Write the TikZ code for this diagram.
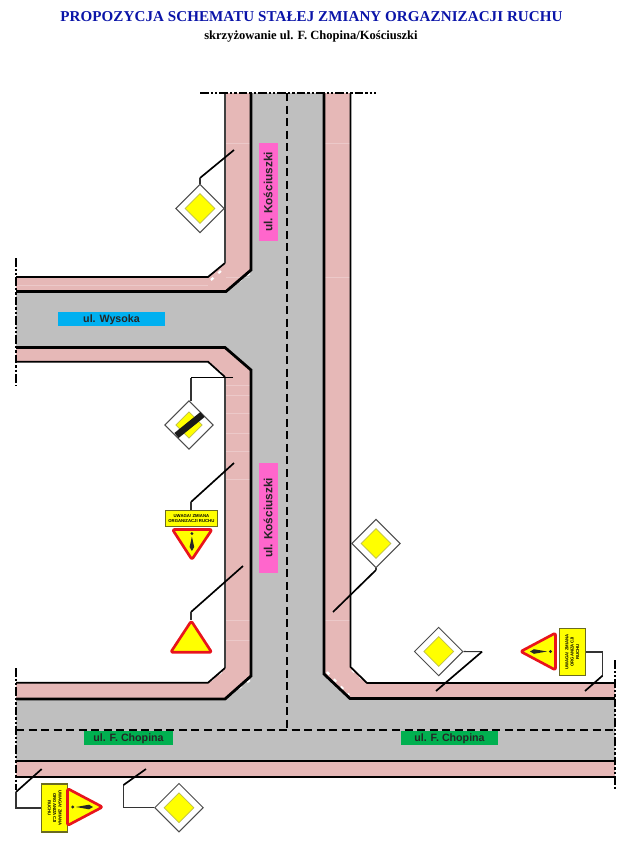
\documentclass[tikz,border=0pt]{standalone}
\usepackage{fontspec}
\setmainfont{Liberation Serif}
\setsansfont{Liberation Sans}
\usetikzlibrary{shapes.geometric}
\definecolor{roadgray}{HTML}{BFBFBF}
\definecolor{walkpink}{HTML}{E6B8B7}
\definecolor{signyellow}{HTML}{FFFF00}
\definecolor{signred}{HTML}{E8141C}
\definecolor{labmag}{HTML}{FF66CC}
\definecolor{labblue}{HTML}{00B0F0}
\definecolor{labgreen}{HTML}{00B050}
\definecolor{titleblue}{HTML}{0A14A8}
\definecolor{yellowedge}{HTML}{BDBD4A}
\definecolor{plateedge}{HTML}{6B6B20}
\tikzset{
  x=0.75pt,y=-0.75pt,
  walk/.style={fill=walkpink,draw=none},
  curb/.style={draw=black,line width=2.1pt,line join=miter},
  edgeline/.style={draw=black,line width=1.3pt},
  thinedge/.style={draw=black!75,line width=0.85pt},
  centre/.style={draw=black,line width=1.3pt,dash pattern=on 6pt off 3.4pt},
  bound/.style={draw=black,line width=1.4pt,dash pattern=on 6.5pt off 1.6pt on 1.6pt off 1.6pt on 1.6pt off 1.6pt},
  seam/.style={draw=white,opacity=0.25,line width=0.5pt},
  jag/.style={draw=white,line width=1.7pt,dash pattern=on 2.5pt off 5pt},
  roadlab/.style={font=\sffamily\bfseries\fontsize{8}{9}\selectfont,text=black!85,inner sep=0pt,text height=5.8pt,text depth=0pt,minimum height=10.6pt,align=center},
  prio/.style={diamond,aspect=1,draw=black!70,line width=0.7pt,fill=white,minimum width=36.5pt,minimum height=36.5pt,inner sep=0pt},
  prioin/.style={diamond,aspect=1,draw=yellowedge,line width=0.5pt,fill=signyellow,minimum width=22.5pt,minimum height=22.5pt,inner sep=0pt},
  plate/.style={draw=plateedge,line width=0.8pt,fill=signyellow,inner sep=0pt,align=center,font=\sffamily\bfseries\fontsize{3.2}{4}\selectfont},
  warn/.style={draw=signred,line width=2pt,fill=signyellow,line join=round,rounded corners=1.5pt},
  lead/.style={draw=black,line width=1.25pt,line join=round},
  leadthin/.style={draw=black!80,line width=0.8pt},
  bang/.style={fill=black!85,draw=none}
}
\begin{document}
\begin{tikzpicture}
\useasboundingbox (0,0) rectangle (627,857);
% title
\node[font=\bfseries\fontsize{11.3}{13}\selectfont,text=titleblue,anchor=center,inner sep=0pt] (title) at (311.5,17) {\addfontfeature{LetterSpace=0.5}PROPOZYCJA SCHEMATU STAŁEJ ZMIANY ORGAZNIZACJI RUCHU};
\node[font=\bfseries\fontsize{9.4}{11}\selectfont,text=black,anchor=center,inner sep=0pt] (subtitle) at (311,36) {skrzyżowanie ul. F. Chopina/Kościuszki};
% sidewalks
\fill[walk] (16,277)--(208,277)--(225,263)--(225,93)--(251,93)--(251,270)--(226,292)--(16,292)--cycle;
\fill[walk] (16,348)--(225,348)--(251,370)--(251,676)--(225,699)--(16,699)--(16,683)--(208,683)--(225,668)--(225,377)--(208,362)--(16,362)--cycle;
\fill[walk] (324,93)--(350,93)--(350,667)--(367,683)--(615,683)--(615,699)--(350,699)--(324,674)--cycle;
\fill[walk] (16,761)--(615,761)--(615,777)--(16,777)--cycle;
% road
\fill[roadgray] (251,93)--(324,93)--(324,674)--(350,699)--(615,699)--(615,761)--(16,761)--(16,699)--(225,699)--(251,676)--(251,370)--(225,348)--(16,348)--(16,292)--(226,292)--(251,270)--cycle;
% seams
\foreach \yy in {143,277,385,395,413,433,451,479,620,640}{\draw[seam] (226,\yy)--(250,\yy);}
\foreach \yy in {143,277}{\draw[seam] (325,\yy)--(350,\yy);}
\draw[seam] (325,620)--(350,620);
\draw[seam] (16,285)--(208,285);
% chamfer jags
\draw[jag] (231,287)--(250,273);
\draw[jag] (231,353)--(250,369);
\draw[jag] (231,694)--(250,680);
\draw[jag] (327,672)--(349,695);
\draw[jag] (211,280)--(224,268);
\draw[jag] (211,365)--(224,375);
\draw[jag] (211,680)--(224,670);
\draw[jag] (352,670)--(365,681);
% centre lines
\draw[centre] (287,93)--(287,730);
\draw[centre] (16,730)--(615,730);
% curbs
\draw[curb] (251,93)--(251,270)--(226,291.5)--(16,291.5);
\draw[curb] (16,347.5)--(225,347.5)--(251,370)--(251,676)--(225,699)--(16,699);
\draw[curb] (324,93)--(324,674)--(350,698.5)--(615,698.5);
\draw[curb] (16,761)--(615,761);
% outer edges
\draw[edgeline] (16,277)--(208,277)--(225,263);
\draw[thinedge] (225,263)--(225,93);
\draw[edgeline] (16,361.7)--(208,361.7)--(225,377);
\draw[thinedge] (225,377)--(225,668);
\draw[edgeline] (225,668)--(208,682.7)--(16,682.7);
\draw[edgeline] (350.5,93)--(350.5,667)--(367,683)--(615,683);
\draw[edgeline] (16,777)--(615,777);
% limits
\draw[bound] (200,93)--(376,93);
\draw[bound] (16,258)--(16,386);
\draw[bound] (16,668)--(16,790);
\draw[bound] (615,660)--(615,790);
% road labels
\node[fill=labmag,roadlab,rotate=90,minimum width=73pt,minimum height=14.2pt,font=\sffamily\bfseries\fontsize{8.85}{10}\selectfont] (kos1) at (268.5,192) {ul. Kościuszki};
\node[fill=labmag,roadlab,rotate=90,minimum width=82.5pt,minimum height=14.2pt,font=\sffamily\bfseries\fontsize{8.85}{10}\selectfont] (kos2) at (268.5,518) {ul. Kościuszki};
\node[fill=labblue,roadlab,minimum width=80.2pt] (wys) at (111.5,319) {ul. Wysoka};
\node[fill=labgreen,roadlab,minimum width=66.7pt,minimum height=10.8pt] (chop1) at (128.5,737.7) {ul. F. Chopina};
\node[fill=labgreen,roadlab,minimum width=72.7pt,minimum height=10.8pt] (chop2) at (449.5,738) {ul. F. Chopina};
% priority signs
\foreach \nm/\cx/\cy in {d1/200/208.5,d3/376/543.5,d4/438.7/651.5,d5/179/807.7}{
  \node[prio] (\nm) at (\cx,\cy) {};
  \node[prioin] at (\cx,\cy) {};
}
\node[prio] (d2) at (189,425) {};
\node[prioin,minimum width=20pt,minimum height=20pt] at (189,425) {};
\draw[black!90,line width=4.9pt] (176.5,435.5)--(202.5,414.5);
% leaders
\coordinate (a1) at (234,150); \coordinate (a1b) at (200,178);
\draw[lead] (a1)--(a1b); \draw[leadthin] (a1b)--(d1.north);
\coordinate (a2) at (233,377.7); \coordinate (a2b) at (191,377.7); \coordinate (a2c) at (191,401);
\draw[line width=0.85pt,black] (a2)--(a2b); \draw[leadthin] (a2b)--(a2c);
\coordinate (a3) at (234,463); \coordinate (a3b) at (191,502);
\draw[lead] (a3)--(a3b);
\coordinate (a4) at (243,566); \coordinate (a4b) at (191,612);
\draw[lead] (a4)--(a4b);
\coordinate (a5) at (333,612); \coordinate (a5b) at (376,570);
\draw[lead] (a5)--(a5b); \draw[leadthin] (a5b)--(d3.south);
\coordinate (a6) at (482,651.7); \coordinate (a6b) at (457,673); \coordinate (a6c) at (436,691);
\draw[leadthin] (d4.east)--(a6);
\draw[lead] (a6)--(a6b)--(a6c);
\coordinate (a7) at (602.5,652); \coordinate (a7b) at (602.5,675.7); \coordinate (a7c) at (585,691);
\coordinate (a8) at (123.5,807.7); \coordinate (a8b) at (123.5,785); \coordinate (a8c) at (146,769);
\draw[leadthin] (d5.west)--(a8)--(a8b);
\draw[lead] (a8b)--(a8c);
\coordinate (a9) at (16,808); \coordinate (a9b) at (16,792); \coordinate (a9c) at (41.7,769);
\draw[lead] (a9b)--(a9c);
% warning: plate above
\node[plate,minimum width=39.5pt,minimum height=12.5pt] (p1) at (191.4,518.5) {UWAGA! ZMIANA\\ORGANIZACJI RUCHU};
\draw[warn] (172.5,529.5)--(212,529.5)--(191.9,559.5)--cycle;
\fill[bang] (191.9,533.5) circle (1.2pt);
\fill[bang] (191.9,536.5)--(194.2,547)--(191.9,551)--(189.6,547)--cycle;
\draw[leadthin] (a3b)--(p1.north-|a3b);
% yield
\draw[warn] (191.3,621)--(211.7,652.3)--(170.7,652.3)--cycle;
\draw[leadthin] (a4b)--(191,620);
% warning: right
\node[plate,rotate=90,minimum width=35.7pt,minimum height=19.7pt] (p2) at (572.2,652) {UWAGA! ZMIANA\\ORGANIZACJI\\RUCHU};
\draw[warn] (520.7,651.5)--(555.5,633)--(555.5,670)--cycle;
\fill[bang] (550.5,651.5) circle (1.2pt);
\fill[bang] (547,651.5)--(534,653.8)--(530,651.5)--(534,649.2)--cycle;
\draw[leadthin] (p2.south)--(a7)--(a7b);
\draw[lead] (a7b)--(a7c);
% warning: left
\node[plate,rotate=-90,minimum width=36pt,minimum height=19.5pt] (p3) at (54.7,808) {UWAGA! ZMIANA\\ORGANIZACJI\\RUCHU};
\draw[warn] (102.5,807)--(67.5,788.5)--(67.5,825.5)--cycle;
\fill[bang] (72.8,807) circle (1.2pt);
\fill[bang] (76,807)--(89,804.7)--(93,807)--(89,809.3)--cycle;
\draw[leadthin] (p3.south)--(a9)--(a9b);
\end{tikzpicture}
\end{document}
